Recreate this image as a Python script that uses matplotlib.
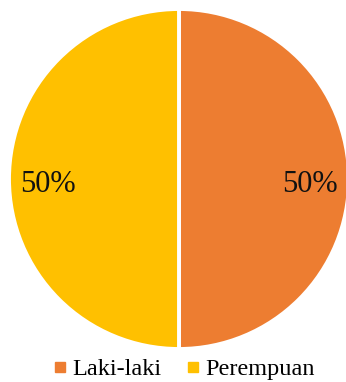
import matplotlib
matplotlib.use("Agg")
import matplotlib.pyplot as plt
from matplotlib.lines import Line2D

categories = ["Laki-laki", "Perempuan"]
values = [50, 50]
colors = ["#ED7D31", "#FFC000"]

plt.rcParams['font.family'] = ['Liberation Serif', 'DejaVu Serif']

fig = plt.figure(figsize=(3.46, 3.82), dpi=100)
W, H = 346, 382
cx, cy, r = 179, 179, 170
ax = fig.add_axes([(cx - r) / W, (H - cy - r) / H, 2 * r / W, 2 * r / H])
wedges, texts, autotexts = ax.pie(
    values, colors=colors, startangle=90, counterclock=False,
    autopct=lambda p: f"{p:.0f}%", pctdistance=0.77,
    wedgeprops=dict(edgecolor="white", linewidth=2.8),
    textprops=dict(fontsize=22, color="#111111"))
for t in autotexts:
    x, y = t.get_position()
    t.set_position((x, y - 0.03))
ax.set_xlim(-1, 1)
ax.set_ylim(-1, 1)
ax.set_aspect("equal")
ax.axis("off")

handles = [Line2D([0], [0], marker="s", linestyle="none", markersize=6.5,
                  markerfacecolor=c, markeredgecolor=c) for c in colors]
fig.legend(handles, categories, loc="center", bbox_to_anchor=(184 / W, 1 - 369 / H),
           ncol=2, frameon=False, fontsize=17.5, handlelength=0.6, handletextpad=0.2,
           columnspacing=1.0)

fig.savefig("out.png", dpi=100)
